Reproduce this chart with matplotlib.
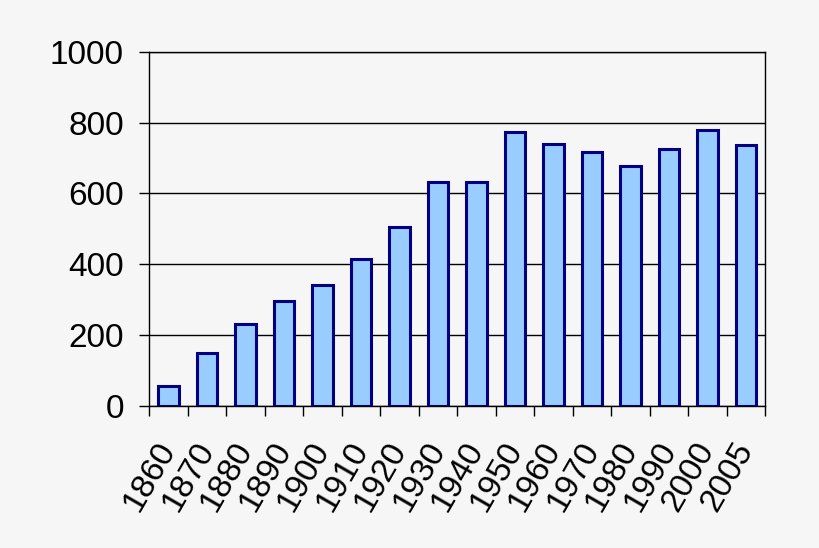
import numpy as np
import matplotlib.pyplot as plt

years = ['1860', '1870', '1880', '1890', '1900', '1910', '1920', '1930',
         '1940', '1950', '1960', '1970', '1980', '1990', '2000', '2005']
values = [56, 149, 231, 296, 342, 414, 506, 633,
          633, 775, 741, 716, 679, 725, 779, 737]

plt.rcParams['font.family'] = ['Liberation Sans', 'DejaVu Sans']

fig = plt.figure(figsize=(8.2, 5.48), dpi=100)
fig.patch.set_facecolor('#f6f6f6')
ax = fig.add_axes([0.182, 0.260, 0.751, 0.645])
ax.set_facecolor('#f6f6f6')

x = np.arange(len(years))
ax.bar(x, values, width=0.53, color='#99ccff', edgecolor='#000080',
       linewidth=2.2, zorder=3)

ax.set_ylim(0, 1000)
ax.set_xlim(-0.5, len(years) - 0.5)
ax.set_yticks(np.arange(0, 1001, 200))
ax.yaxis.grid(True, color='black', linewidth=1.0, zorder=0)

ax.set_xticks(x)
ax.set_xticklabels(years, rotation=60, ha='right', va='center',
                   rotation_mode='anchor', fontsize=24)
ax.set_xticks(np.arange(-0.5, len(years), 1), minor=True)
ax.tick_params(axis='x', which='major', length=0, pad=28)
ax.tick_params(axis='x', which='minor', length=7.2, width=1.0, direction='out')
ax.tick_params(axis='y', length=7.2, width=1.0, direction='out', pad=11,
               labelsize=24)

for s in ax.spines.values():
    s.set_color('black')
    s.set_linewidth(1.0)

fig.savefig('out.png', dpi=100, facecolor=fig.get_facecolor())
